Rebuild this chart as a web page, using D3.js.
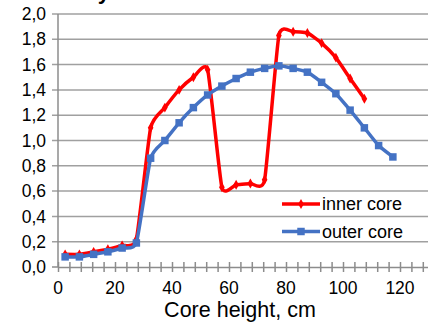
<!DOCTYPE html>
<html lang="en">
<head>
  <meta charset="UTF-8">
  <title>Core height profile</title>
  <script src="https://d3js.org/d3.v7.min.js"></script>
  <style>
    body { margin: 0; background: #fff; }
    svg { display: block; font-family: Arial, "Liberation Sans", sans-serif; }
    .grid line { stroke: #a0a0a0; stroke-width: 1.5px; }
    .axis path, .axis line { stroke: #8c8c8c; stroke-width: 1.5px; }
    .tick-label { font-size: 17.5px; fill: #000; }
    .legend text { font-size: 18px; fill: #000; }
  </style>
</head>
<body>
  <svg id="chart" width="428" height="323"></svg>
  <script>
    // heights along the core, cm
    const innerCoreHeight = [2.5, 7.5, 12.5, 17.5, 22.5, 27.5, 32.5, 37.5, 42.5, 47.5, 52.5,
                             57.5, 62.5, 67.5, 72.5, 77.5, 82.5, 87.5, 92.5, 97.5, 102.5, 107.5];
    const innerCoreValue  = [0.10, 0.10, 0.12, 0.14, 0.17, 0.22, 1.10, 1.26, 1.40, 1.50, 1.56,
                             0.63, 0.65, 0.66, 0.69, 1.83, 1.86, 1.85, 1.77, 1.655, 1.49, 1.33];
    const outerCoreHeight = [2.5, 7.5, 12.5, 17.5, 22.5, 27.5, 32.5, 37.5, 42.5, 47.5, 52.5, 57.5,
                             62.5, 67.5, 72.5, 77.5, 82.5, 87.5, 92.5, 97.5, 102.5, 107.5, 112.5, 117.5];
    const outerCoreValue  = [0.08, 0.08, 0.10, 0.12, 0.15, 0.19, 0.86, 1.00, 1.14, 1.26, 1.36, 1.43,
                             1.49, 1.54, 1.57, 1.59, 1.57, 1.54, 1.46, 1.37, 1.24, 1.10, 0.96, 0.87];
    const xTicks = [0, 20, 40, 60, 80, 100, 120];
    const yTicks = [0, 0.2, 0.4, 0.6, 0.8, 1.0, 1.2, 1.4, 1.6, 1.8, 2.0];

    const svg = d3.select('#chart');
    const plotLeft = 58, plotTop = 14, plotBottom = 267;

    const x = d3.scaleLinear().domain([0, 130]).range([plotLeft, plotLeft + 370.5]);
    const y = d3.scaleLinear().domain([0, 2]).range([plotBottom, plotTop]);
    const fmt = d => d3.format('.1f')(d).replace('.', ',');

    // title, mostly outside the visible area (as in the cropped original)
    svg.append('text')
      .attr('x', 110).attr('y', -1)
      .attr('text-anchor', 'end')
      .style('font-size', '22px').style('font-weight', 'bold')
      .text('Axial Power Density');

    // horizontal gridlines
    svg.append('g').attr('class', 'grid')
      .selectAll('line').data(yTicks.slice(1)).join('line')
      .attr('x1', plotLeft - 6).attr('x2', 428)
      .attr('y1', d => y(d)).attr('y2', d => y(d));

    // y axis line + labels
    const gy = svg.append('g').attr('class', 'axis');
    gy.append('line')
      .attr('x1', plotLeft).attr('x2', plotLeft)
      .attr('y1', plotTop).attr('y2', plotBottom);
    gy.append('line')
      .attr('x1', plotLeft - 6).attr('x2', plotLeft)
      .attr('y1', y(0)).attr('y2', y(0));
    svg.selectAll('text.ylab').data(yTicks).join('text')
      .attr('class', 'tick-label ylab')
      .attr('x', 46).attr('y', d => y(d))
      .attr('dy', '0.35em')
      .attr('text-anchor', 'end')
      .text(fmt);

    // x axis: cross ticks every 4 cm
    const xAxis = d3.axisBottom(x)
      .tickValues(d3.range(0, 130, 4))
      .tickSize(5)
      .tickSizeOuter(0)
      .tickFormat('');
    const gx = svg.append('g').attr('class', 'axis')
      .attr('transform', `translate(0,${plotBottom})`)
      .call(xAxis);
    gx.selectAll('.tick line').attr('y1', -5);
    svg.selectAll('text.xlab').data(xTicks).join('text')
      .attr('class', 'tick-label xlab')
      .attr('x', d => x(d)).attr('y', 294)
      .attr('text-anchor', 'middle')
      .text(d => d);

    svg.append('text')
      .attr('x', 240).attr('y', 317)
      .attr('text-anchor', 'middle')
      .style('font-size', '21.5px')
      .text('Core height, cm');

    const line = d3.line()
      .x(d => x(d[0])).y(d => y(d[1]))
      .curve(d3.curveCardinal.tension(0.5));

    const inner = innerCoreHeight.map((h, i) => [h, innerCoreValue[i]]);
    const outer = outerCoreHeight.map((h, i) => [h, outerCoreValue[i]]);

    const red = '#ff0000', blue = '#4472c4';
    const diamond = d3.symbol().type(d3.symbolDiamond).size(28);
    const square = d3.symbol().type(d3.symbolSquare).size(56);

    // inner core (drawn first, outer core on top)
    svg.append('path').datum(inner)
      .attr('d', line)
      .attr('fill', 'none').attr('stroke', red).attr('stroke-width', 3.5)
      .attr('stroke-linejoin', 'round');
    svg.append('g').selectAll('path').data(inner).join('path')
      .attr('transform', d => `translate(${x(d[0])},${y(d[1])})`)
      .attr('d', diamond).attr('fill', red);

    svg.append('path').datum(outer)
      .attr('d', line)
      .attr('fill', 'none').attr('stroke', blue).attr('stroke-width', 3.5)
      .attr('stroke-linejoin', 'round');
    svg.append('g').selectAll('path').data(outer).join('path')
      .attr('transform', d => `translate(${x(d[0])},${y(d[1])})`)
      .attr('d', square).attr('fill', blue);

    // legend
    const legend = svg.append('g').attr('class', 'legend');
    const items = [
      { name: 'inner core', color: red, sym: diamond, ly: 204 },
      { name: 'outer core', color: blue, sym: square, ly: 231.5 }
    ];
    items.forEach(it => {
      legend.append('line')
        .attr('x1', 282).attr('x2', 320)
        .attr('y1', it.ly).attr('y2', it.ly)
        .attr('stroke', it.color).attr('stroke-width', 3.5);
      legend.append('path')
        .attr('transform', `translate(301,${it.ly})`)
        .attr('d', it.sym).attr('fill', it.color);
      legend.append('text')
        .attr('x', 322).attr('y', it.ly)
        .attr('dy', '0.35em')
        .text(it.name);
    });
  </script>
</body>
</html>
